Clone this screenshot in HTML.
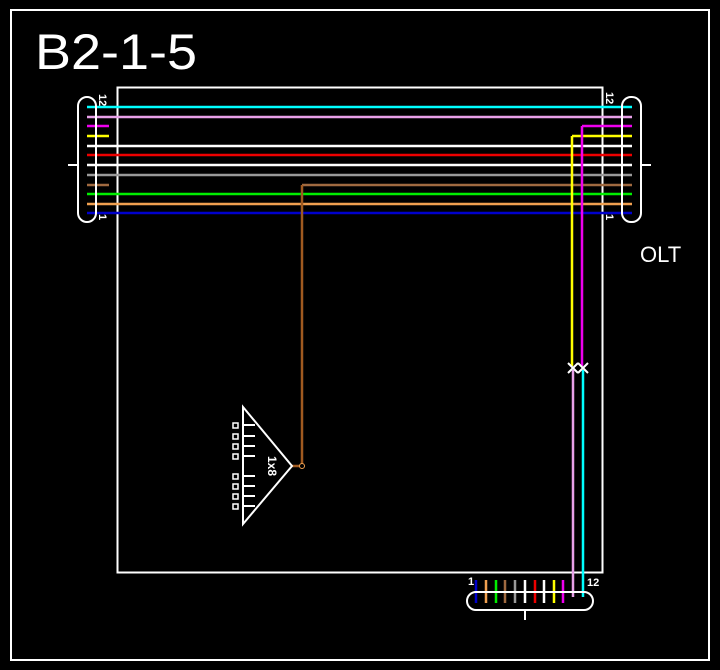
<!DOCTYPE html><html><head><style>body{margin:0;background:#000}</style></head><body>
<svg width="720" height="670" xmlns="http://www.w3.org/2000/svg" style="display:block;font-family:'Liberation Sans',sans-serif">
<rect x="0" y="0" width="720" height="670" fill="#000"/>
<rect x="11" y="10" width="698" height="650" fill="none" stroke="#fff" stroke-width="2"/>
<text x="35" y="69" fill="#fff" font-size="50" textLength="162" lengthAdjust="spacingAndGlyphs">B2-1-5</text>
<text x="640" y="262" fill="#fff" font-size="22">OLT</text>
<rect x="117.5" y="87.5" width="485" height="485" fill="none" stroke="#fff" stroke-width="2"/>
<g stroke-width="2.5" fill="none">
<line x1="87" y1="107" x2="632" y2="107" stroke="#0ff"/>
<line x1="87" y1="117" x2="632" y2="117" stroke="#e8a0e8"/>
<line x1="87" y1="126" x2="109" y2="126" stroke="#e0e"/>
<line x1="582" y1="126" x2="632" y2="126" stroke="#e0e"/>
<line x1="87" y1="136" x2="109" y2="136" stroke="#ff0"/>
<line x1="572" y1="136" x2="632" y2="136" stroke="#ff0"/>
<line x1="87" y1="146" x2="632" y2="146" stroke="#fff"/>
<line x1="87" y1="155" x2="632" y2="155" stroke="#e00"/>
<line x1="87" y1="165" x2="632" y2="165" stroke="#fff"/>
<line x1="87" y1="175" x2="632" y2="175" stroke="#999"/>
<line x1="87" y1="185" x2="109" y2="185" stroke="#a06a40"/>
<line x1="302" y1="185" x2="632" y2="185" stroke="#a06a40"/>
<line x1="87" y1="194" x2="632" y2="194" stroke="#0e0"/>
<line x1="87" y1="204" x2="632" y2="204" stroke="#f0a050"/>
<line x1="87" y1="213" x2="632" y2="213" stroke="#00c"/>
<polyline points="302,185 302,466 292,466" stroke="#a05a20"/>
<line x1="572" y1="136" x2="572" y2="366" stroke="#ff0"/>
<line x1="582" y1="126" x2="582" y2="366" stroke="#e0e"/>
<line x1="573" y1="370" x2="573" y2="597" stroke="#e8a0e8"/>
<line x1="583" y1="370" x2="583" y2="597" stroke="#0ff"/>
<line x1="476" y1="580" x2="476" y2="603" stroke="#00c"/>
<line x1="486" y1="580" x2="486" y2="603" stroke="#f0a050"/>
<line x1="496" y1="580" x2="496" y2="603" stroke="#0e0"/>
<line x1="505" y1="580" x2="505" y2="603" stroke="#a06a40"/>
<line x1="515" y1="580" x2="515" y2="603" stroke="#999"/>
<line x1="525" y1="580" x2="525" y2="603" stroke="#fff"/>
<line x1="535" y1="580" x2="535" y2="603" stroke="#e00"/>
<line x1="544" y1="580" x2="544" y2="603" stroke="#fff"/>
<line x1="554" y1="580" x2="554" y2="603" stroke="#ff0"/>
<line x1="563" y1="580" x2="563" y2="603" stroke="#e0e"/>
</g>
<g stroke="#fff" stroke-width="2" fill="none">
<path d="M568,363 L578,373 M578,363 L568,373 M578,363 L588,373 M588,363 L578,373"/>
<rect x="78" y="97" width="18" height="125" rx="9"/>
<rect x="622" y="97" width="19" height="125" rx="9"/>
<line x1="68" y1="165" x2="78" y2="165"/>
<line x1="641" y1="165" x2="651" y2="165"/>
<rect x="467" y="592" width="126" height="18" rx="9"/>
<line x1="525" y1="610" x2="525" y2="620"/>
<polygon points="243,407 292,466 243,524"/>
<path d="M243,425h12M243,436h12M243,446h12M243,456h12M243,476h12M243,486h12M243,496h12M243,506h12"/>
<path d="M233,423v5h5v-5zM233,434v5h5v-5zM233,444v5h5v-5zM233,454v5h5v-5zM233,474v5h5v-5zM233,484v5h5v-5zM233,494v5h5v-5zM233,504v5h5v-5z" stroke-width="1.5"/>
</g>
<circle cx="302" cy="466" r="2.5" fill="#000" stroke="#f0a050" stroke-width="1"/>
<text transform="translate(268,466) rotate(90)" fill="#fff" font-size="12" font-weight="bold" text-anchor="middle">1x8</text>
<text transform="translate(99,94) rotate(90)" fill="#fff" font-size="11" font-weight="bold">12</text>
<text transform="translate(99,214) rotate(90)" fill="#fff" font-size="11" font-weight="bold">1</text>
<text transform="translate(606,92) rotate(90)" fill="#fff" font-size="11" font-weight="bold">12</text>
<text transform="translate(606,214) rotate(90)" fill="#fff" font-size="11" font-weight="bold">1</text>
<text x="468" y="585" fill="#fff" font-size="11" font-weight="bold">1</text>
<text x="587" y="586" fill="#fff" font-size="11" font-weight="bold">12</text>
</svg>
</body></html>
